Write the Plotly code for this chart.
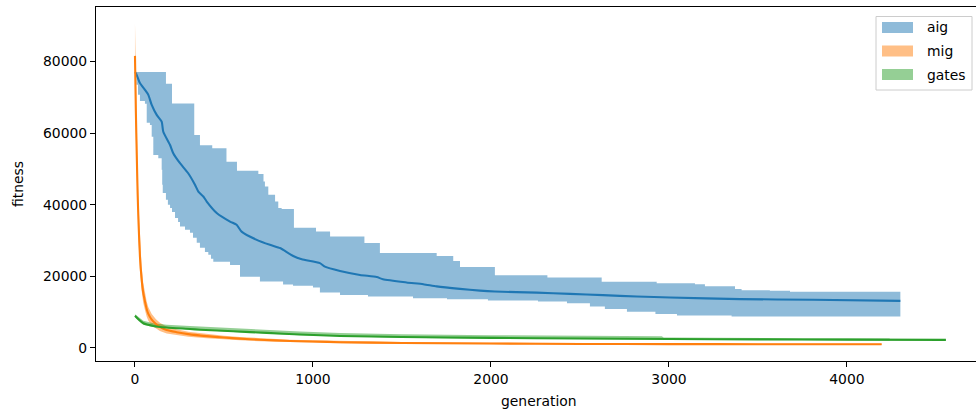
import plotly.graph_objects as go

# ---------------- data ----------------
# aig: mean curve and step-shaped min/max envelope
aig_gen = [0, 6, 28, 56, 75, 94, 122, 150, 159, 197, 215, 253, 299, 337, 356, 384, 403,
           459, 534, 571, 599, 684, 758, 815, 833, 889, 937, 1039, 1067, 1152, 1264, 1358,
           1393, 1526, 1620, 1695, 1826, 1938, 2022, 2257, 2444, 2629, 2819, 3006, 3399,
           3809, 4300]
aig_mean = [77100, 76700, 74000, 72100, 70700, 67900, 65100, 63200, 60400, 56700, 54400,
            51600, 48800, 45600, 43700, 42300, 40900, 37700, 35300, 34400, 32500, 30200,
            28800, 27900, 27400, 25700, 24800, 23700, 22700, 21500, 20400, 19800, 19200,
            18300, 17800, 17200, 16500, 16000, 15750, 15450, 15100, 14750, 14350, 14100,
            13650, 13450, 13150]

aig_upper_gen = [0, 174, 208, 333, 365, 434, 514, 573, 693, 722, 730, 749, 787, 805, 824,
                 893, 1017, 1096, 1289, 1376, 1695, 1788, 1826, 2022, 2317, 2622, 2931,
                 3146, 3202, 3371, 3408, 3567, 3680, 4300]
aig_upper = [77100, 73800, 68300, 59500, 56600, 55800, 52000, 49500, 48600, 46500, 45100,
             42800, 40900, 39100, 38800, 33600, 32500, 31100, 29300, 26500, 25700, 24300,
             22600, 20300, 19700, 18500, 18100, 17800, 17200, 16500, 16100, 15950, 15700,
             15700]

aig_lower_gen = [0, 8, 17, 28, 56, 66, 84, 94, 103, 131, 150, 153, 156, 174, 185, 197,
                 208, 225, 242, 253, 281, 309, 326, 347, 365, 393, 412, 427, 440, 534, 590,
                 702, 832, 888, 1000, 1039, 1152, 1309, 1562, 1753, 1983, 2264, 2427, 2556,
                 2640, 2764, 2924, 3045, 3352, 4300]
aig_lower = [77100, 73500, 70700, 69000, 68200, 62900, 62300, 59000, 53900, 53000, 49800,
             45600, 43300, 41400, 40000, 39100, 38000, 36300, 35200, 33900, 33000, 32200,
             30800, 29400, 28000, 26800, 26000, 24900, 24100, 23200, 19900, 18550, 17750,
             17400, 16900, 15500, 14800, 14350, 13900, 13600, 13250, 12950, 12500, 11550,
             10850, 10100, 9450, 9050, 8750, 8750]

# mig: mean curve and +/- spread
mig_gen = [0, 5, 10, 15, 20, 28, 37, 46, 56, 66, 75, 94, 118, 140, 178, 234, 300, 403,
           500, 590, 700, 871, 1000, 1152, 1500, 2000, 2500, 3000, 3500, 4195]
mig_mean = [81600, 66000, 54000, 43000, 35000, 25500, 19500, 15500, 13000, 10800, 9500,
            7900, 6700, 5900, 5000, 4400, 3850, 3300, 2900, 2600, 2300, 1950, 1780, 1600,
            1380, 1220, 1120, 1070, 1040, 1020]
mig_spread = [9000, 7500, 6500, 5800, 5000, 4000, 3300, 2800, 2400, 2100, 1900, 1600,
              1300, 1150, 950, 800, 700, 600, 520, 470, 420, 370, 340, 310, 260, 220,
              200, 180, 170, 160]

# gates: mean curve and envelope
gates_gen = [0, 20, 47, 103, 178, 309, 365, 551, 740, 927, 1152, 1500, 2000, 2500, 3000,
             3500, 4000, 4556]
gates_mean = [9000, 8000, 6900, 6150, 5700, 5300, 5100, 4650, 4200, 3750, 3350, 3050,
              2800, 2650, 2500, 2400, 2320, 2260]
gates_band_gen = [0, 20, 47, 103, 178, 309, 551, 927, 1152, 1500, 2000, 2500, 2960, 2970,
                  3500, 4000, 4240]
gates_band_upper = [9400, 8600, 7600, 6900, 6500, 6100, 5450, 4600, 4150, 3800, 3550,
                    3380, 3250, 2900, 2800, 2700, 2650]
gates_band_lower = [8600, 7500, 6500, 5850, 5450, 5100, 4450, 3550, 3150, 2850, 2600,
                    2450, 2300, 2300, 2200, 2120, 2080]

series_names = ["aig", "mig", "gates"]
line_colors = ["#1f77b4", "#ff7f0e", "#2ca02c"]
band_colors = ["rgba(31,119,180,0.5)", "rgba(255,127,14,0.5)", "rgba(44,160,44,0.5)"]

x_ticks = [0, 1000, 2000, 3000, 4000]
y_ticks = [0, 20000, 40000, 60000, 80000]

FONT = "DejaVu Sans"
FS = 13.9

# ---------------- figure ----------------
fig = go.Figure()

# aig band (step envelope)
fig.add_trace(go.Scatter(x=aig_upper_gen, y=aig_upper, mode="lines",
                         line=dict(width=0, shape="hv", color=band_colors[0]),
                         showlegend=False, hoverinfo="skip"))
fig.add_trace(go.Scatter(x=aig_lower_gen, y=aig_lower, mode="lines",
                         line=dict(width=0, shape="hv", color=band_colors[0]),
                         fill="tonexty", fillcolor=band_colors[0],
                         showlegend=False, hoverinfo="skip"))

# mig band
mig_up = [m + s for m, s in zip(mig_mean, mig_spread)]
mig_lo = [m - s for m, s in zip(mig_mean, mig_spread)]
fig.add_trace(go.Scatter(x=mig_gen + mig_gen[::-1], y=mig_up + mig_lo[::-1],
                         mode="lines", line=dict(width=0), fill="toself",
                         fillcolor=band_colors[1], showlegend=False, hoverinfo="skip"))

# gates band
fig.add_trace(go.Scatter(x=gates_band_gen + gates_band_gen[::-1],
                         y=gates_band_upper + gates_band_lower[::-1],
                         mode="lines", line=dict(width=0), fill="toself",
                         fillcolor=band_colors[2], showlegend=False, hoverinfo="skip"))

# mean lines
for gen, mean, col, name in [(aig_gen, aig_mean, line_colors[0], "aig"),
                             (mig_gen, mig_mean, line_colors[1], "mig"),
                             (gates_gen, gates_mean, line_colors[2], "gates")]:
    fig.add_trace(go.Scatter(x=gen, y=mean, mode="lines", name=name,
                             line=dict(color=col, width=2.1, shape="spline", smoothing=0.6),
                             showlegend=False))

# plot-area geometry (pixels)
W, H = 976, 412
L, R, T, B = 96, 0, 7, 51
pw, ph = W - L - R, H - T - B


def px_x(px):
    return (px - L) / pw


def px_y(py):
    return (H - B - py) / ph


# custom legend (matplotlib style)
shapes = [dict(type="rect", xref="paper", yref="paper",
               x0=px_x(876), x1=px_x(972), y0=px_y(90), y1=px_y(16.5),
               line=dict(color="#cccccc", width=1), fillcolor="rgba(255,255,255,0.8)",
               layer="above")]
annotations = []
row_y = [27.5, 51.0, 74.5]
for name, col, yy in zip(series_names, band_colors, row_y):
    shapes.append(dict(type="rect", xref="paper", yref="paper",
                       x0=px_x(882), x1=px_x(913), y0=px_y(yy + 5.5), y1=px_y(yy - 5.5),
                       line=dict(width=0), fillcolor=col, layer="above"))
    annotations.append(dict(text=name, xref="paper", yref="paper", x=px_x(925),
                            y=px_y(yy), xanchor="left", yanchor="middle", showarrow=False,
                            font=dict(family=FONT, size=FS, color="black")))

# axis titles
annotations.append(dict(text="generation", xref="paper", yref="paper", x=px_x(539),
                        y=px_y(401), xanchor="center", yanchor="middle", showarrow=False,
                        font=dict(family=FONT, size=FS, color="black")))
annotations.append(dict(text="fitness", xref="paper", yref="paper", x=px_x(18),
                        y=px_y(184), xanchor="center", yanchor="middle", showarrow=False,
                        textangle=-90, font=dict(family=FONT, size=FS, color="black")))

fig.update_layout(
    width=W, height=H,
    margin=dict(l=L, r=R, t=T, b=B, pad=0),
    paper_bgcolor="white", plot_bgcolor="white",
    font=dict(family=FONT, size=FS, color="black"),
    shapes=shapes, annotations=annotations,
    showlegend=False,
)
fig.update_xaxes(range=[-219, 4725], tickvals=x_ticks, ticktext=[str(v) for v in x_ticks],
                 showgrid=False, zeroline=False, showline=True, linecolor="black",
                 linewidth=1.1, mirror=True, ticks="outside", ticklen=5, tickwidth=1.1,
                 tickcolor="black", tickfont=dict(family=FONT, size=FS, color="black"))
fig.update_yaxes(range=[-3650, 95250], tickvals=y_ticks, ticktext=[str(v) for v in y_ticks],
                 showgrid=False, zeroline=False, showline=True, linecolor="black",
                 linewidth=1.1, mirror=False, ticks="outside", ticklen=5, tickwidth=1.1,
                 tickcolor="black", tickfont=dict(family=FONT, size=FS, color="black"))

fig.write_html("out.html")
